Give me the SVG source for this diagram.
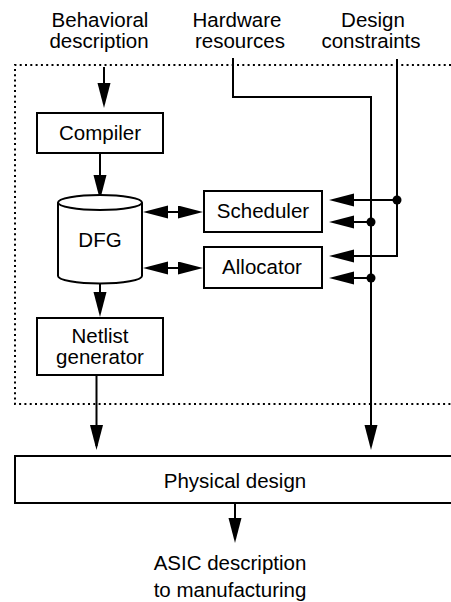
<svg xmlns="http://www.w3.org/2000/svg" width="451" height="602" viewBox="0 0 451 602">
  <style>
    text { font-family: "Liberation Sans", Arial, sans-serif; font-size: 20.5px; fill: #000; text-anchor: middle; }
    .box { fill: #fff; stroke: #000; stroke-width: 2; }
    .wire { fill: none; stroke: #000; stroke-width: 2; }
    .arrow { fill: none; stroke: #000; stroke-width: 2; marker-end: url(#head); }
    .both { fill: none; stroke: #000; stroke-width: 2; marker-start: url(#head); marker-end: url(#head); }
    .dotted { fill: none; stroke: #000; stroke-width: 2; stroke-dasharray: 2 3.3; }
  </style>
  <defs>
    <marker id="head" markerUnits="userSpaceOnUse" markerWidth="26" markerHeight="14" refX="21" refY="6.5" orient="auto-start-reverse">
      <path d="M0,0 L25,6.5 L0,13 z" fill="#000"/>
    </marker>
  </defs>

  <rect width="451" height="602" fill="#fff"/>

  <!-- synthesis boundary -->
  <path class="dotted" d="M451,65 H15 V404 H451"/>

  <!-- input labels -->
  <g id="in-behavioral">
    <text x="100" y="27">Behavioral</text>
    <text x="99" y="48">description</text>
  </g>
  <g id="in-hardware">
    <text x="237" y="27">Hardware</text>
    <text x="240" y="48">resources</text>
  </g>
  <g id="in-constraints">
    <text x="373" y="27">Design</text>
    <text x="371" y="48">constraints</text>
  </g>

  <!-- connectors -->
  <g id="connectors">
    <path class="arrow" d="M104,67 V104"/>
    <path class="arrow" d="M100,153 V196"/>
    <path class="arrow" d="M100,283 V313"/>
    <path class="arrow" d="M96.5,375 V446"/>
    <path class="arrow" d="M235,503 V539"/>
    <path class="both" d="M147,212 H199"/>
    <path class="both" d="M147,268 H199"/>
    <!-- hardware resources feed -->
    <path class="arrow" d="M233,58 V97 H371 V446"/>
    <path class="arrow" d="M371,222 H333"/>
    <path class="arrow" d="M371,278 H333"/>
    <circle cx="371" cy="222" r="4.5"/>
    <circle cx="371" cy="278" r="4.5"/>
    <!-- design constraints feed -->
    <path class="arrow" d="M397,59 V256 H333"/>
    <path class="arrow" d="M397,200 H333"/>
    <circle cx="397" cy="200" r="4.5"/>
  </g>

  <g id="compiler">
    <rect class="box" x="37" y="113" width="126" height="40"/>
    <text x="100" y="140">Compiler</text>
  </g>

  <g id="dfg">
    <path class="box" d="M58,202.5 V276 A42,7.5 0 0 0 142,276 V202.5"/>
    <ellipse class="box" cx="100" cy="202.5" rx="42" ry="7.5"/>
    <text x="100" y="247">DFG</text>
  </g>

  <g id="scheduler">
    <rect class="box" x="204" y="191" width="118" height="41"/>
    <text x="263" y="218">Scheduler</text>
  </g>

  <g id="allocator">
    <rect class="box" x="204" y="247" width="118" height="41"/>
    <text x="262" y="274">Allocator</text>
  </g>

  <g id="netlist">
    <rect class="box" x="37" y="318" width="126" height="57"/>
    <text x="100" y="343">Netlist</text>
    <text x="100" y="364">generator</text>
  </g>

  <g id="physical">
    <rect class="box" x="15" y="456" width="450" height="47"/>
    <text x="235" y="488">Physical design</text>
  </g>

  <g id="out-asic">
    <text x="230" y="570">ASIC description</text>
    <text x="230" y="597">to manufacturing</text>
  </g>
</svg>
